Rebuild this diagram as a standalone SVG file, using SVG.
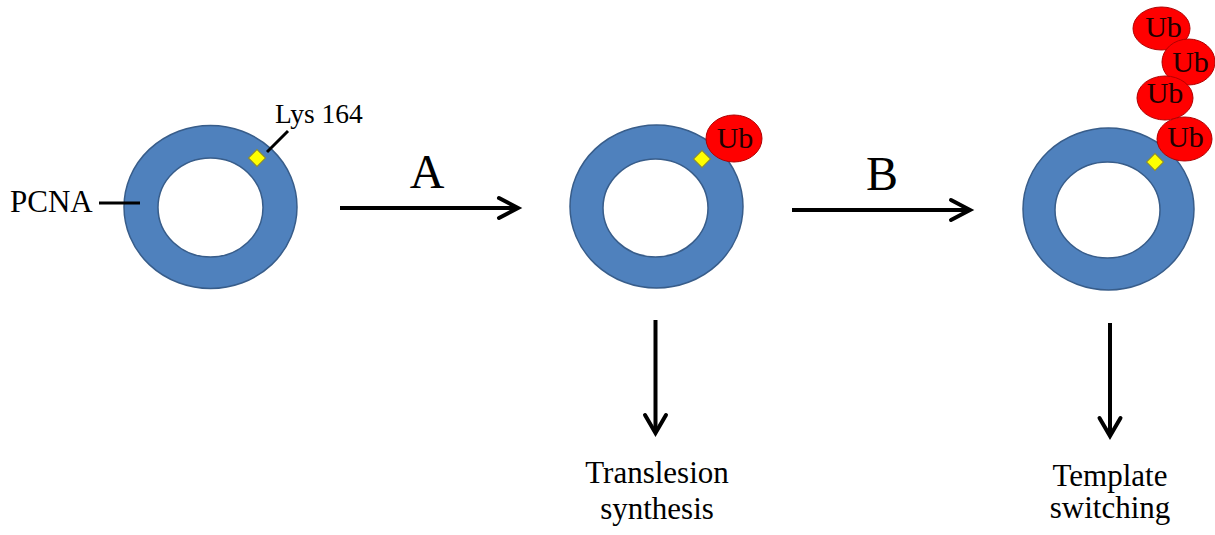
<svg xmlns="http://www.w3.org/2000/svg" width="1215" height="535" viewBox="0 0 1215 535">
  <style>
    .ring { fill: #4F81BD; stroke: #385D8A; stroke-width: 1.5; }
    .hole { fill: #FFFFFF; stroke: #385D8A; stroke-width: 1.5; }
    .lys { fill: #FFFF00; stroke: #8A8A30; stroke-width: 1; }
    .ub { fill: #FF0000; stroke: #B00000; stroke-width: 1; }
    .ubt { font-family: "Liberation Serif", "Times New Roman", serif; font-size: 30px; fill: #200000; text-anchor: middle; }
    .lbl { font-family: "Liberation Serif", "Times New Roman", serif; fill: #000000; }
    .line { stroke: #000000; stroke-width: 3; fill: none; }
    .arrow { stroke: #000000; stroke-width: 4; fill: none; }
    .head { stroke: #000000; stroke-width: 4; fill: none; stroke-linecap: round; stroke-linejoin: miter; }
  </style>

  <!-- unmodified PCNA ring -->
  <g id="pcna">
    <ellipse class="ring" cx="210.5" cy="207" rx="86.5" ry="81.5"/>
    <ellipse class="hole" cx="210.5" cy="207.5" rx="52.5" ry="49.5"/>
    <rect class="lys" x="-6" y="-6" width="12" height="12" transform="translate(257 158) rotate(45)"/>
    <line class="line" x1="99" y1="203" x2="140" y2="203"/>
    <line class="line" x1="267" y1="152" x2="288" y2="131"/>
    <text class="lbl" x="10" y="212" font-size="31">PCNA</text>
    <text class="lbl" x="275" y="123" font-size="27.5">Lys 164</text>
  </g>

  <!-- mono-ubiquitinated PCNA -->
  <g id="pcna-mono">
    <ellipse class="ring" cx="656.5" cy="206.5" rx="86.5" ry="81.5"/>
    <ellipse class="hole" cx="655.5" cy="208" rx="52.5" ry="49"/>
    <rect class="lys" x="-6" y="-6" width="12" height="12" transform="translate(702 159) rotate(45)"/>
    <ellipse class="ub" cx="734" cy="138.5" rx="28" ry="23.5"/>
    <text class="ubt" x="735" y="148">Ub</text>
  </g>

  <!-- poly-ubiquitinated PCNA -->
  <g id="pcna-poly">
    <ellipse class="ring" cx="1108.5" cy="209" rx="85.5" ry="81"/>
    <ellipse class="hole" cx="1107.5" cy="210" rx="52.5" ry="48"/>
    <rect class="lys" x="-6" y="-6" width="12" height="12" transform="translate(1155 162) rotate(45)"/>
    <ellipse class="ub" cx="1161.5" cy="28.5" rx="28.5" ry="21.5"/>
    <text class="ubt" x="1163.5" y="37">Ub</text>
    <ellipse class="ub" cx="1188.5" cy="62" rx="26.5" ry="23"/>
    <text class="ubt" x="1190.5" y="72">Ub</text>
    <ellipse class="ub" cx="1165" cy="98" rx="28" ry="22"/>
    <text class="ubt" x="1165" y="103">Ub</text>
    <ellipse class="ub" cx="1184.5" cy="139" rx="27.5" ry="22"/>
    <text class="ubt" x="1185.5" y="147">Ub</text>
  </g>

  <!-- outcome labels -->
  <g id="tls">
    <text class="lbl" x="657" y="483" font-size="31" text-anchor="middle">Translesion</text>
    <text class="lbl" x="657" y="519" font-size="31" text-anchor="middle">synthesis</text>
  </g>
  <g id="ts">
    <text class="lbl" x="1110" y="486" font-size="31" text-anchor="middle">Template</text>
    <text class="lbl" x="1110" y="518" font-size="31" text-anchor="middle">switching</text>
  </g>

  <!-- connectors -->
  <g id="connectors">
    <line class="arrow" x1="340" y1="208" x2="518" y2="208"/>
    <polyline class="head" points="499,198 518,208 499,218"/>
    <text class="lbl" x="427" y="188" font-size="48" text-anchor="middle">A</text>

    <line class="arrow" x1="792" y1="210" x2="970" y2="210"/>
    <polyline class="head" points="951,200 970,210 951,220"/>
    <text class="lbl" x="882" y="190" font-size="48" text-anchor="middle">B</text>

    <line class="arrow" x1="655.5" y1="320" x2="655.5" y2="433"/>
    <polyline class="head" points="645,415 655.5,433 666,415"/>

    <line class="arrow" x1="1110" y1="323" x2="1110" y2="436"/>
    <polyline class="head" points="1099.5,418 1110,436 1120.5,418"/>
  </g>
</svg>
